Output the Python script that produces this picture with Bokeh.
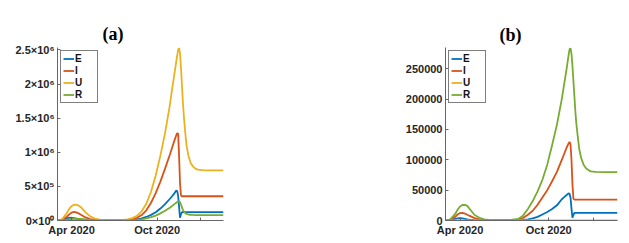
from bokeh.plotting import figure
from bokeh.layouts import row
from bokeh.models import ColumnDataSource, FixedTicker, Range1d
from bokeh.embed import file_html
from bokeh.resources import INLINE

# days since 1 Apr 2020
days = [-30, -20, -10, -5, 0, 5, 10, 15, 20, 30, 40, 50, 60, 75, 90, 105, 120, 130, 140, 150,
        160, 170, 180, 190, 200, 210, 215, 220, 224, 226, 228, 230, 232, 234, 236, 238, 240,
        243, 246, 250, 255, 260, 265, 270, 280, 300, 325]

# panel (a)
E_a = [0, 8e3, 30e3, 38e3, 40e3, 35e3, 28e3, 20e3, 14e3, 6e3, 3e3, 1.5e3, 1e3, 1e3, 1e3, 2e3, 4e3, 8e3, 16e3, 30e3,
       52e3, 82e3, 120e3, 175e3, 240e3, 315e3, 355e3, 398e3, 440e3, 430e3, 360e3, 200e3, 40e3, 90e3, 120e3, 125e3, 124e3,
       123e3, 122e3, 122e3, 122e3, 122e3, 122e3, 122e3, 122e3, 122e3, 122e3]
I_a = [0, 10e3, 55e3, 90e3, 115e3, 125e3, 120e3, 105e3, 85e3, 45e3, 20e3, 9e3, 4e3, 2e3, 2e3, 3e3, 8e3, 18e3, 40e3, 80e3,
       150e3, 260e3, 400e3, 570e3, 760e3, 960e3, 1065e3, 1170e3, 1250e3, 1280e3, 1270e3, 950e3, 550e3, 370e3, 355e3, 355e3, 355e3,
       355e3, 355e3, 355e3, 355e3, 355e3, 355e3, 355e3, 355e3, 355e3, 355e3]
U_a = [0, 20e3, 110e3, 170e3, 210e3, 230e3, 232e3, 220e3, 195e3, 120e3, 60e3, 28e3, 12e3, 5e3, 4e3, 6e3, 15e3, 35e3, 70e3, 135e3,
       245e3, 420e3, 660e3, 950e3, 1280e3, 1680e3, 1920e3, 2150e3, 2330e3, 2420e3, 2500e3, 2530e3, 2450e3, 2250e3, 2000e3, 1750e3, 1550e3,
       1300e3, 1100e3, 950e3, 840e3, 790e3, 760e3, 745e3, 737e3, 735e3, 735e3]
R_a = [0, 3e3, 10e3, 15e3, 20e3, 24e3, 26e3, 25e3, 22e3, 15e3, 9e3, 5e3, 3e3, 2e3, 2e3, 2e3, 3e3, 5e3, 10e3, 18e3,
       30e3, 48e3, 72e3, 104e3, 142e3, 188e3, 213e3, 240e3, 260e3, 270e3, 278e3, 280e3, 270e3, 235e3, 195e3, 160e3, 135e3,
       110e3, 97e3, 88e3, 83e3, 81e3, 80e3, 80e3, 80e3, 80e3, 80e3]

# panel (b)
E_b = [0, 500, 2500, 3500, 4000, 3600, 2800, 2000, 1400, 600, 300, 150, 100, 100, 100, 200, 400, 1000, 2000, 3500,
       6000, 10000, 14000, 18900, 25000, 35000, 38500, 42000, 44800, 44000, 38000, 20000, 4500, 9000, 12500, 12500, 12500,
       12500, 12500, 12500, 12500, 12500, 12500, 12500, 12500, 12500, 12500]
I_b = [0, 1000, 6000, 10000, 12300, 12500, 11500, 9500, 7500, 4000, 2000, 1000, 500, 300, 300, 500, 1500, 4000, 9500, 16000,
       26000, 38000, 50000, 64700, 80000, 100000, 110000, 120000, 127000, 129400, 126000, 100000, 60000, 36000, 34500, 34500, 34500,
       34500, 34500, 34500, 34500, 34500, 34500, 34500, 34500, 34500, 34500]
U_b = [0] * len(days)
R_b = [0, 2000, 10800, 18000, 23000, 25500, 25800, 24000, 19000, 9000, 4500, 2000, 1000, 500, 500, 800, 2500, 8000, 19000, 32000,
       48000, 67000, 92000, 124000, 158000, 200000, 225000, 250000, 272000, 282000, 284000, 275000, 255000, 230000, 205000, 180000, 160000,
       138000, 118000, 103000, 92000, 86000, 83000, 81000, 80000, 79800, 79800]

series_names = ["E", "I", "U", "R"]
colors = ["#0072BD", "#D95319", "#EDB120", "#77AC30"]

x_ticks = [0, 183, 275]
x_tick_labels = {0: "Apr 2020", 183: "Oct 2020", 275: ""}

ya_ticks = [0, 500000, 1000000, 1500000, 2000000, 2500000]
ya_labels = ["0×10⁰", "5×10⁵", "1×10⁶", "1.5×10⁶", "2×10⁶", "2.5×10⁶"]
yb_ticks = [0, 50000, 100000, 150000, 200000, 250000]
yb_labels = ["0", "50000", "100000", "150000", "200000", "250000"]


def make(title, ys, ymax, yticks, ylabels, width, left, right, top, bottom, toffset, tstand):
    src = ColumnDataSource(dict(d=days, E=ys[0], I=ys[1], U=ys[2], R=ys[3]))
    p = figure(width=width, height=240, output_backend="svg", toolbar_location=None,
               x_range=Range1d(-30, 325), y_range=Range1d(0, ymax),
               min_border_left=left, min_border_right=right, min_border_top=top, min_border_bottom=bottom)
    p.outline_line_color = None
    p.xgrid.visible = False
    p.ygrid.visible = False
    for name, c in zip(series_names, colors):
        p.line("d", name, source=src, color=c, line_width=1.8, legend_label=name)
    p.title.text = title
    p.title.text_font = "Liberation Serif"
    p.title.text_font_style = "bold"
    p.title.text_font_size = "18px"
    p.title.align = "left"
    p.title.offset = toffset
    p.title.standoff = tstand
    p.title.text_color = "black"
    for ax in (p.xaxis[0], p.yaxis[0]):
        ax.axis_line_color = "#666666"
        ax.major_tick_line_color = "#666666"
        ax.major_tick_in = 3
        ax.major_tick_out = 0
        ax.minor_tick_line_color = None
        ax.major_label_text_font = "Liberation Sans"
        ax.major_label_text_font_style = "bold"
        ax.major_label_text_font_size = "11px"
        ax.major_label_text_color = "#262626"
        ax.major_label_standoff = 3
    p.xaxis.ticker = FixedTicker(ticks=x_ticks)
    p.xaxis.major_label_overrides = x_tick_labels
    p.yaxis.ticker = FixedTicker(ticks=yticks)
    p.yaxis.major_label_overrides = {t: l for t, l in zip(yticks, ylabels)}
    lg = p.legend[0]
    lg.location = "top_left"
    lg.margin = 3
    lg.padding = 2
    lg.spacing = 1
    lg.glyph_width = 11
    lg.glyph_height = 11
    lg.label_standoff = 1
    lg.label_height = 11
    lg.label_text_font = "Liberation Sans"
    lg.label_text_font_style = "bold"
    lg.label_text_font_size = "10px"
    lg.label_text_color = "#111111"
    lg.border_line_color = "black"
    lg.border_line_width = 1
    lg.background_fill_alpha = 1
    return p


pa = make("(a)", [E_a, I_a, U_a, R_a], 2535000, ya_ticks, ya_labels, 314, 57, 91, 47, 19, 45, 8)
pb = make("(b)", [E_b, I_b, U_b, R_b], 285000, yb_ticks, yb_labels, 313, 131, 10, 44, 20, 54, 5)

layout = row(pa, pb)
open("out.html", "w").write(file_html(layout, INLINE))
